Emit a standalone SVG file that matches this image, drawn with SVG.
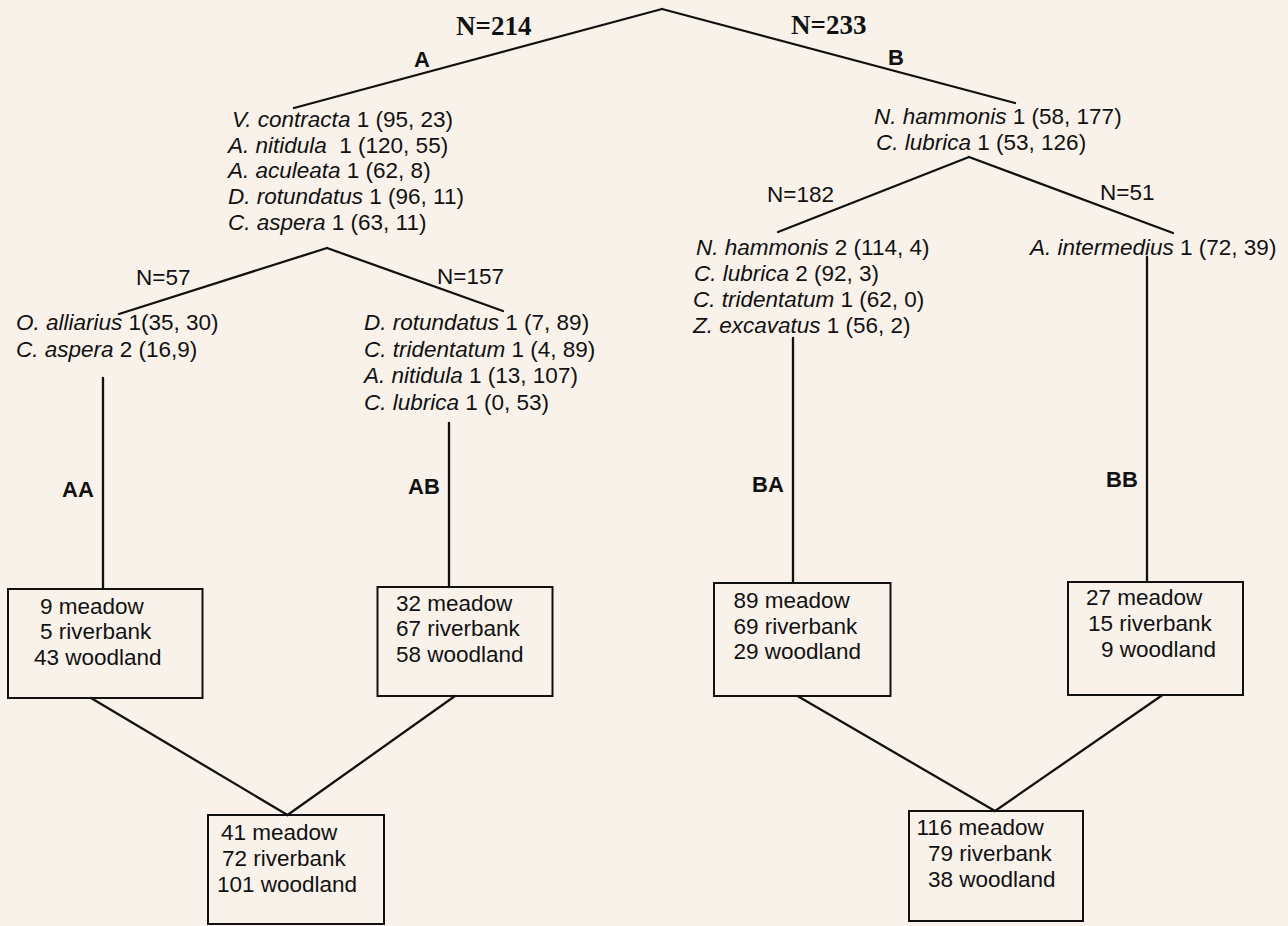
<svg xmlns="http://www.w3.org/2000/svg" width="1288" height="926" viewBox="0 0 1288 926">
<style>
.bg{fill:#f9f2ea}
.ln{stroke:#111;stroke-width:2.3;fill:none;stroke-linecap:round}
.box{fill:none;stroke:#111;stroke-width:2}
text{font-family:"Liberation Sans",Arial,sans-serif;font-size:22.5px;fill:#111}
.i{font-style:italic}
.nt{font-family:"Liberation Serif","Times New Roman",serif;font-weight:bold;font-size:27px}
.lb{font-weight:bold;font-size:22px}
.pre{white-space:pre}
</style>
<rect class="bg" x="0" y="0" width="1288" height="926"/>
<g id="connectors">
<line class="ln" x1="662" y1="9" x2="294" y2="108"/>
<line class="ln" x1="662" y1="9" x2="1015" y2="103"/>
<line class="ln" x1="327" y1="248" x2="119" y2="314"/>
<line class="ln" x1="327" y1="248" x2="503" y2="311"/>
<line class="ln" x1="969" y1="157" x2="778" y2="232"/>
<line class="ln" x1="969" y1="157" x2="1173" y2="233"/>
<line class="ln" x1="103" y1="378" x2="103" y2="589"/>
<line class="ln" x1="449" y1="423" x2="449" y2="587"/>
<line class="ln" x1="793" y1="338" x2="793" y2="583"/>
<line class="ln" x1="1147" y1="257" x2="1147" y2="582"/>
<line class="ln" x1="91" y1="698" x2="287.5" y2="815"/>
<line class="ln" x1="455" y1="696" x2="287.5" y2="815"/>
<line class="ln" x1="797.5" y1="696" x2="995" y2="811"/>
<line class="ln" x1="1162.5" y1="695" x2="995" y2="811"/>
</g>
<g id="labels">
<text class="nt" x="456" y="35">N=214</text>
<text class="nt" x="791" y="34">N=233</text>
<text class="lb" x="414" y="67">A</text>
<text class="lb" x="888" y="65">B</text>
<text x="136" y="285">N=57</text>
<text x="437" y="284">N=157</text>
<text x="767" y="202">N=182</text>
<text x="1100" y="200">N=51</text>
<text class="lb" x="62" y="497">AA</text>
<text class="lb" x="408" y="494">AB</text>
<text class="lb" x="752" y="492">BA</text>
<text class="lb" x="1106" y="487">BB</text>
</g>
<g id="node-A">
<text x="232" y="127"><tspan class="i">V. contracta</tspan> 1 (95, 23)</text>
<text x="228" y="153" class="pre" xml:space="preserve"><tspan class="i">A. nitidula</tspan>  1 (120, 55)</text>
<text x="228" y="178"><tspan class="i">A. aculeata</tspan> 1 (62, 8)</text>
<text x="228" y="204"><tspan class="i">D. rotundatus</tspan> 1 (96, 11)</text>
<text x="228" y="230"><tspan class="i">C. aspera</tspan> 1 (63, 11)</text>
</g>
<g id="node-B">
<text x="874" y="124"><tspan class="i">N. hammonis</tspan> 1 (58, 177)</text>
<text x="876" y="150"><tspan class="i">C. lubrica</tspan> 1 (53, 126)</text>
</g>
<g id="node-AA-split">
<text x="16" y="330"><tspan class="i">O. alliarius</tspan> 1(35, 30)</text>
<text x="16" y="357"><tspan class="i">C. aspera</tspan> 2 (16,9)</text>
</g>
<g id="node-AB-split">
<text x="364" y="330"><tspan class="i">D. rotundatus</tspan> 1 (7, 89)</text>
<text x="364" y="357"><tspan class="i">C. tridentatum</tspan> 1 (4, 89)</text>
<text x="364" y="383"><tspan class="i">A. nitidula</tspan> 1 (13, 107)</text>
<text x="364" y="410"><tspan class="i">C. lubrica</tspan> 1 (0, 53)</text>
</g>
<g id="node-BA-split">
<text x="696" y="255"><tspan class="i">N. hammonis</tspan> 2 (114, 4)</text>
<text x="694" y="281"><tspan class="i">C. lubrica</tspan> 2 (92, 3)</text>
<text x="693" y="307"><tspan class="i">C. tridentatum</tspan> 1 (62, 0)</text>
<text x="693" y="333"><tspan class="i">Z. excavatus</tspan> 1 (56, 2)</text>
</g>
<g id="node-BB-split">
<text x="1030" y="255"><tspan class="i">A. intermedius</tspan> 1 (72, 39)</text>
</g>
<g id="box-AA">
<rect class="box" x="8" y="589" width="194.5" height="109"/>
<text x="40" y="614">9 meadow</text>
<text x="40" y="639">5 riverbank</text>
<text x="34" y="665">43 woodland</text>
</g>
<g id="box-AB">
<rect class="box" x="377.5" y="587" width="175" height="109"/>
<text x="396" y="611">32 meadow</text>
<text x="396" y="636">67 riverbank</text>
<text x="396" y="662">58 woodland</text>
</g>
<g id="box-BA">
<rect class="box" x="714" y="583" width="176.5" height="113"/>
<text x="733.5" y="608">89 meadow</text>
<text x="733.5" y="634">69 riverbank</text>
<text x="733.5" y="659">29 woodland</text>
</g>
<g id="box-BB">
<rect class="box" x="1068" y="582" width="175" height="113"/>
<text x="1086" y="605">27 meadow</text>
<text x="1088" y="631">15 riverbank</text>
<text x="1101" y="657">9 woodland</text>
</g>
<g id="box-A-total">
<rect class="box" x="208" y="815" width="176" height="109"/>
<text x="221" y="840">41 meadow</text>
<text x="222" y="866">72 riverbank</text>
<text x="217" y="892">101 woodland</text>
</g>
<g id="box-B-total">
<rect class="box" x="909" y="811" width="174" height="110"/>
<text x="916.5" y="835">116 meadow</text>
<text x="928" y="861">79 riverbank</text>
<text x="928" y="887">38 woodland</text>
</g>
</svg>
